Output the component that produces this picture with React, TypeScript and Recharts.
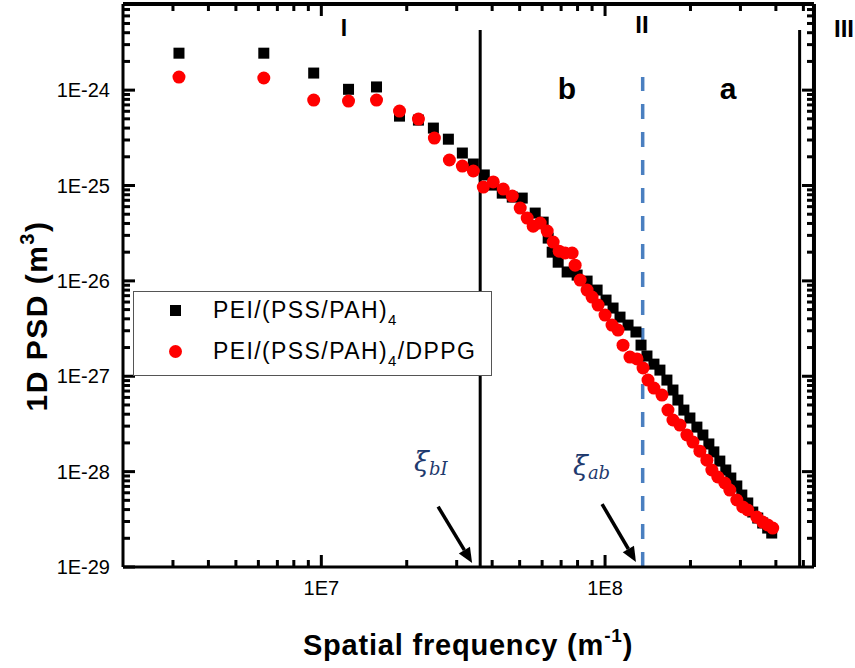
import {
  ScatterChart,
  Scatter,
  XAxis,
  YAxis,
  ReferenceLine,
  Legend,
  Customized
} from "recharts"

// spatial frequency (m^-1) and 1D PSD (m^3)
const pemFreq = [
  3.15e6, 6.27e6, 9.4e6, 1.247e7, 1.565e7, 1.886e7, 2.199e7, 2.483e7, 2.804e7, 3.141e7,
  3.434e7, 3.753e7, 4.037e7, 4.342e7, 4.709e7, 5.106e7, 5.673e7, 6.052e7, 6.303e7, 6.511e7,
  6.835e7, 7.351e7, 7.972e7, 8.643e7, 9.374e7, 1.008e8, 1.067e8, 1.129e8, 1.205e8, 1.285e8,
  1.339e8, 1.405e8, 1.487e8, 1.561e8, 1.652e8, 1.735e8, 1.806e8, 1.896e8, 1.991e8, 2.107e8,
  2.212e8, 2.322e8, 2.418e8, 2.538e8, 2.664e8, 2.775e8, 2.913e8, 3.034e8, 3.184e8, 3.316e8,
  3.453e8, 3.594e8, 3.743e8, 3.867e8
]
const pemPsd = [
  2.44e-24, 2.44e-24, 1.51e-24, 1.02e-24, 1.08e-24, 5.34e-25, 4.85e-25, 4.0e-25, 3.06e-25, 2.19e-25,
  1.68e-25, 1.29e-25, 1.01e-25, 8.32e-26, 7.56e-26, 7.38e-26, 5.14e-26, 4.13e-26, 2.81e-26, 2.0e-26,
  1.57e-26, 1.24e-26, 1.15e-26, 9.95e-27, 8.01e-27, 6.29e-27, 5.19e-27, 4.17e-27, 3.44e-27, 2.91e-27,
  2.12e-27, 1.63e-27, 1.34e-27, 1.16e-27, 9.12e-28, 7.17e-28, 5.63e-28, 4.42e-28, 3.65e-28, 2.93e-28,
  2.42e-28, 1.95e-28, 1.61e-28, 1.29e-28, 1.04e-28, 8.57e-29, 7.07e-29, 5.68e-29, 4.69e-29, 3.77e-29,
  3.26e-29, 2.89e-29, 2.56e-29, 2.27e-29
]

const dppgFreq = [
  3.15e6, 6.27e6, 9.4e6, 1.247e7, 1.565e7, 1.886e7, 2.199e7, 2.503e7, 2.827e7, 3.141e7,
  3.434e7, 3.723e7, 4.037e7, 4.377e7, 4.709e7, 5.023e7, 5.316e7, 5.581e7, 5.908e7, 6.252e7,
  6.563e7, 6.89e7, 7.233e7, 7.655e7, 7.844e7, 8.168e7, 8.643e7, 9.0e7, 9.45e7, 1.0e8,
  1.058e8, 1.111e8, 1.157e8, 1.224e8, 1.296e8, 1.361e8, 1.417e8, 1.487e8, 1.587e8, 1.666e8,
  1.735e8, 1.836e8, 1.943e8, 2.04e8, 2.159e8, 2.285e8, 2.379e8, 2.497e8, 2.643e8, 2.752e8,
  2.913e8, 3.058e8, 3.184e8, 3.425e8, 3.594e8, 3.743e8, 3.899e8
]
const dppgPsd = [
  1.37e-24, 1.34e-24, 7.86e-25, 7.67e-25, 7.86e-25, 6.03e-25, 4.97e-25, 3.14e-25, 1.85e-25, 1.6e-25,
  1.42e-25, 9.62e-26, 1.09e-25, 9.17e-26, 7.74e-26, 5.8e-26, 4.55e-26, 3.75e-26, 4.04e-26, 3.33e-26,
  2.55e-26, 2.05e-26, 1.96e-26, 1.96e-26, 1.46e-26, 1.02e-26, 8.01e-27, 6.77e-27, 5.58e-27, 4.38e-27,
  3.44e-27, 3.05e-27, 2.12e-27, 1.59e-27, 1.52e-27, 1.22e-27, 9.12e-28, 7.52e-28, 6.35e-28, 4.42e-28,
  3.48e-28, 3.08e-28, 2.42e-28, 2.04e-28, 1.64e-28, 1.32e-28, 1.04e-28, 8.78e-29, 7.6e-29, 6.41e-29,
  5.04e-29, 4.26e-29, 3.96e-29, 3.34e-29, 2.96e-29, 2.76e-29, 2.56e-29
]

const seriesNames = ["PEI/(PSS/PAH)₄", "PEI/(PSS/PAH)₄/DPPG"]

const xDomain = [2e6, 5.45e8]
const yDomain = [1e-29, 8e-24]

const xTicks = [
  3e6, 4e6, 5e6, 6e6, 7e6, 8e6, 9e6, 1e7, 2e7, 3e7, 4e7, 5e7, 6e7, 7e7, 8e7, 9e7,
  1e8, 2e8, 3e8, 4e8, 5e8
]
const yTicks = [
  1e-29, 2e-29, 3e-29, 4e-29, 5e-29, 6e-29, 7e-29, 8e-29, 9e-29,
  1e-28, 2e-28, 3e-28, 4e-28, 5e-28, 6e-28, 7e-28, 8e-28, 9e-28,
  1e-27, 2e-27, 3e-27, 4e-27, 5e-27, 6e-27, 7e-27, 8e-27, 9e-27,
  1e-26, 2e-26, 3e-26, 4e-26, 5e-26, 6e-26, 7e-26, 8e-26, 9e-26,
  1e-25, 2e-25, 3e-25, 4e-25, 5e-25, 6e-25, 7e-25, 8e-25, 9e-25,
  1e-24, 2e-24, 3e-24, 4e-24, 5e-24, 6e-24, 7e-24
]

// region boundaries
const xiBI = 3.63e7
const xiAB = 1.357e8
const xiIII = 4.85e8

const pemData = pemFreq.map((x, i) => ({ x, y: pemPsd[i] }))
const dppgData = dppgFreq.map((x, i) => ({ x, y: dppgPsd[i] }))

const W = 855
const H = 668
// plot box
const PL = 123
const PT = 4
const PR = 814
const PB = 567

const FONT = "'Liberation Sans', Arial, sans-serif"

const isMajor = (v: number) => {
  const l = Math.log10(v)
  return Math.abs(l - Math.round(l)) < 1e-6
}
const expLabel = (v: number) => `1E${Math.round(Math.log10(v))}`

// tick labels plus the inward tick marks on the left axis
const LeftTick = (p: any) => {
  const x = Number(p.x)
  const y = Number(p.y)
  const major = isMajor(p.payload.value)
  return (
    <g>
      <rect x={x} y={y - 1.5} width={major ? 12 : 7} height={3} fill="#000" />
      {major && (
        <text x={x - 13} y={y + 7} textAnchor="end" fontSize={20} fill="#000" fontFamily={FONT}>
          {expLabel(p.payload.value)}
        </text>
      )}
    </g>
  )
}

const BottomTick = (p: any) => {
  const x = Number(p.x)
  const y = Number(p.y)
  const major = isMajor(p.payload.value)
  const len = major ? 12 : 7
  return (
    <g>
      <rect x={x - 1.5} y={y - len} width={3} height={len} fill="#000" />
      {major && (
        <text x={x} y={y + 28} textAnchor="middle" fontSize={20} fill="#000" fontFamily={FONT}>
          {expLabel(p.payload.value)}
        </text>
      )}
    </g>
  )
}

// mirrored top / right ticks, drawn at both ends of full-span reference lines
const hEnds = (len: number) => (p: any) => {
  const a = Math.min(p.x1, p.x2)
  const b = Math.max(p.x1, p.x2)
  const y = Number(p.y1)
  return <rect x={b - len} y={y - 1.5} width={len} height={3} fill="#000" />
}
const vEnds = (len: number) => (p: any) => {
  const a = Math.min(p.y1, p.y2)
  const x = Number(p.x1)
  return <rect x={x - 1.5} y={a} width={3} height={len} fill="#000" />
}

const Square = ({ cx, cy }: any) => (
  <rect x={cx - 5.5} y={cy - 5.5} width={11} height={11} fill="#000" />
)
const Dot = ({ cx, cy }: any) => <circle cx={cx} cy={cy} r={6.5} fill="#ff0000" />

const Arrow = (p: any) => {
  const { x1, y1, x2, y2 } = p
  const a = Math.atan2(y2 - y1, x2 - x1)
  const bx = x2 - 15 * Math.cos(a)
  const by = y2 - 15 * Math.sin(a)
  const nx = -Math.sin(a) * 6.5
  const ny = Math.cos(a) * 6.5
  return (
    <g>
      <line x1={x1} y1={y1} x2={bx} y2={by} stroke="#000" strokeWidth={3.5} />
      <polygon points={`${x2},${y2} ${bx + nx},${by + ny} ${bx - nx},${by - ny}`} fill="#000" />
    </g>
  )
}

const withSub = (s: string) => {
  const parts = s.split("₄")
  return parts.map((t, i) => (
    <span key={i}>
      {t}
      {i < parts.length - 1 && (
        <span style={{ fontSize: 15, position: "relative", top: 7 }}>4</span>
      )}
    </span>
  ))
}

const LegendBox = ({ payload }: any) => {
  const items = (payload || []).filter((e: any) => e.type !== "none")
  return (
    <div
      style={{
        position: "relative",
        width: 357,
        height: 83,
        border: "1px solid #555",
        background: "#fff",
        fontFamily: FONT,
        fontSize: 23,
        letterSpacing: 1.4,
        color: "#000"
      }}
    >
      {items.map((e: any, i: number) => (
        <div key={i} style={{ position: "absolute", left: 0, top: i === 0 ? 3 : 44, height: 30, width: 357 }}>
          {e.type === "square" ? (
            <div style={{ position: "absolute", left: 36, top: 10, width: 11, height: 11, background: e.color }} />
          ) : (
            <div style={{ position: "absolute", left: 35, top: 9, width: 13, height: 13, borderRadius: 7, background: e.color }} />
          )}
          <div style={{ position: "absolute", left: 79, top: 0, whiteSpace: "nowrap", lineHeight: "30px" }}>
            {withSub(e.value)}
          </div>
        </div>
      ))}
    </div>
  )
}

const Annotations = () => (
  <g fontFamily={FONT} fill="#000">
    <text x={344} y={36} fontSize={23} fontWeight="bold" textAnchor="middle">I</text>
    <text x={642} y={33} fontSize={24} fontWeight="bold" textAnchor="middle">II</text>
    <text x={834} y={37} fontSize={24} fontWeight="bold">III</text>
    <text x={567} y={99} fontSize={30} fontWeight="bold" textAnchor="middle">b</text>
    <text x={728} y={99} fontSize={30} fontWeight="bold" textAnchor="middle">a</text>
    <text x={414} y={471} fontSize={27} fontStyle="italic" fontFamily="'DejaVu Serif', serif" fill="#1f3a6e">
      ξ<tspan fontSize={18} dy={4}>bI</tspan>
    </text>
    <text x={573} y={475} fontSize={27} fontStyle="italic" fontFamily="'DejaVu Serif', serif" fill="#1f3a6e">
      ξ<tspan fontSize={18} dy={4}>ab</tspan>
    </text>
    <text x={468} y={655} fontSize={29} fontWeight="bold" textAnchor="middle" letterSpacing={0.8}>
      Spatial frequency (m<tspan fontSize={19} dy={-13}>-1</tspan><tspan dy={13}>)</tspan>
    </text>
    <text
      transform="translate(47,316) rotate(-90)"
      fontSize={30}
      fontWeight="bold"
      textAnchor="middle"
      letterSpacing={1.5}
    >
      1D PSD (m<tspan fontSize={20} dy={-13}>3</tspan><tspan dy={13}>)</tspan>
    </text>
  </g>
)

export default function App() {
  return (
    <div style={{ position: "absolute", left: 0, top: 0, width: W, height: H, background: "#fff", fontFamily: FONT }}>
      <ScatterChart width={W} height={H} margin={{ top: PT, right: W - PR, bottom: 0, left: 0 }}>
        <XAxis
          xAxisId="b"
          dataKey="x"
          type="number"
          scale="log"
          domain={xDomain}
          allowDataOverflow
          ticks={xTicks}
          interval={0}
          height={H - PB}
          tickSize={0}
          tickMargin={0}
          tickLine={false}
          tick={BottomTick}
          axisLine={{ stroke: "#000", strokeWidth: 3 }}
        />
        <YAxis
          yAxisId="l"
          dataKey="y"
          type="number"
          scale="log"
          domain={yDomain}
          allowDataOverflow
          ticks={yTicks}
          interval={0}
          width={PL}
          tickSize={0}
          tickMargin={0}
          tickLine={false}
          tick={LeftTick}
          axisLine={{ stroke: "#000", strokeWidth: 3 }}
        />

        {/* top and right frame */}
        <ReferenceLine
          xAxisId="b"
          yAxisId="l"
          segment={[{ x: 2.0001e6, y: 7.99e-24 }, { x: 5.449e8, y: 7.99e-24 }]}
          stroke="#000"
          strokeWidth={4}
        />
        <ReferenceLine
          xAxisId="b"
          yAxisId="l"
          segment={[{ x: 5.449e8, y: 1.0001e-29 }, { x: 5.449e8, y: 7.99e-24 }]}
          stroke="#000"
          strokeWidth={4}
        />

        {yTicks.slice(1).map((v) => (
          <ReferenceLine key={`yt${v}`} xAxisId="b" yAxisId="l" y={v} shape={hEnds(isMajor(v) ? 12 : 7)} />
        ))}
        {xTicks.map((v) => (
          <ReferenceLine key={`xt${v}`} xAxisId="b" yAxisId="l" x={v} shape={vEnds(isMajor(v) ? 12 : 7)} />
        ))}

        <ReferenceLine
          xAxisId="b"
          yAxisId="l"
          segment={[{ x: xiBI, y: 1.0001e-29 }, { x: xiBI, y: 4.26e-24 }]}
          stroke="#000"
          strokeWidth={3}
        />
        <ReferenceLine
          xAxisId="b"
          yAxisId="l"
          segment={[{ x: xiIII, y: 1.0001e-29 }, { x: xiIII, y: 4.26e-24 }]}
          stroke="#000"
          strokeWidth={3}
        />
        <ReferenceLine
          xAxisId="b"
          yAxisId="l"
          segment={[{ x: xiAB, y: 1.0001e-29 }, { x: xiAB, y: 1.37e-24 }]}
          stroke="#4a7fc0"
          strokeWidth={3.5}
          strokeDasharray="15 13"
        />

        <Scatter
          name={seriesNames[0]}
          data={pemData}
          xAxisId="b"
          yAxisId="l"
          fill="#000"
          legendType="square"
          shape={Square}
          isAnimationActive={false}
        />
        <Scatter
          name={seriesNames[1]}
          data={dppgData}
          xAxisId="b"
          yAxisId="l"
          fill="#ff0000"
          legendType="circle"
          shape={Dot}
          isAnimationActive={false}
        />

        <ReferenceLine
          xAxisId="b"
          yAxisId="l"
          segment={[{ x: 2.58e7, y: 4.29e-29 }, { x: 3.4e7, y: 1.1e-29 }]}
          shape={Arrow}
        />
        <ReferenceLine
          xAxisId="b"
          yAxisId="l"
          segment={[{ x: 9.76e7, y: 4.57e-29 }, { x: 1.285e8, y: 1.13e-29 }]}
          shape={Arrow}
        />

        <Legend
          content={LegendBox}
          verticalAlign="middle"
          align="center"
          layout="horizontal"
          wrapperStyle={{ left: 133, top: 291, width: 359, height: 85 }}
        />
        <Customized component={Annotations} />
      </ScatterChart>
    </div>
  )
}
